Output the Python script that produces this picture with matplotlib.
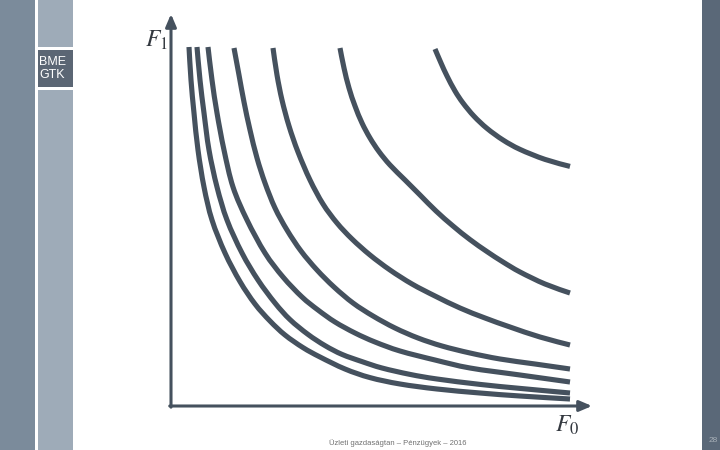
import matplotlib

matplotlib.use("Agg")
import matplotlib.pyplot as plt
import numpy as np
from matplotlib.patches import PathPatch, Rectangle
from matplotlib.path import Path

plt.rcParams["mathtext.fontset"] = "stix"
plt.rcParams["font.family"] = ["Liberation Sans", "DejaVu Sans"]

# Indifference curves (F0 horizontal, F1 vertical, 0..100 units)
c1_f0 = [4.5, 5, 5.75, 6.75, 8.25, 10.25, 13.5, 17.25, 21, 24.75, 28.5, 33, 37.25, 43.5,
         49.75, 57.25, 66.5, 77.25, 87.25, 99.75]
c1_f1 = [89.75, 81.5, 73.25, 64, 54.75, 46.5, 38.25, 31.1, 25.5, 21.25, 17.75, 14.6, 12.25,
         9.25, 7.1, 5.5, 4.25, 3.25, 2.5, 1.75]

c2_f0 = [6.5, 7.25, 8.25, 9.5, 11.5, 14, 17.75, 21.75, 26, 29.75, 34.25, 38.5, 42.75, 47.75,
         52.75, 59.75, 66.5, 77.25, 87.25, 99.75]
c2_f1 = [89.75, 81.5, 73.25, 64, 54.75, 46.5, 38.25, 31.5, 25.75, 21.6, 17.9, 15.1, 12.9,
         11.1, 9.5, 7.9, 6.75, 5.4, 4.4, 3.25]

c3_f0 = [9.25, 10.25, 11.5, 13.25, 15.5, 19, 23.5, 28, 32.75, 36.75, 41, 46, 51, 57.25,
         66, 74.75, 87.25, 99.75]
c3_f1 = [89.75, 81.5, 73.25, 64, 54.75, 46.5, 38.25, 32.25, 27.25, 24, 21, 18.25, 16, 13.75,
         11.5, 9.5, 7.75, 6]

c4_f0 = [15.75, 17, 18.25, 19.75, 21.5, 23.5, 26, 29, 32.5, 36.5, 40.75, 45.5, 50.5, 56,
         61.75, 67.75, 74.75, 82.25, 91, 99.75]
c4_f1 = [89.5, 82.75, 76, 69, 62, 55.75, 49.5, 44, 38.75, 34, 29.75, 25.75, 22.5, 19.5,
         17, 15, 13.25, 11.75, 10.5, 9.25]

c5_f0 = [25.5, 26.5, 27.75, 29.5, 31.75, 34.75, 38, 41.5, 45.25, 49.75, 54.75, 60.25, 66,
         72.25, 78.5, 84.75, 92.25, 99.75]
c5_f1 = [89.5, 82.75, 76.5, 70, 63.5, 56.5, 50.5, 45.75, 41.75, 37.75, 34, 30.5, 27.5,
         24.5, 22, 19.75, 17.25, 15.25]

c6_f0 = [42.25, 43.25, 44.5, 46, 47.75, 49.75, 52, 54.75, 58.5, 62.25, 66.25, 70.5, 74.75,
         79, 83, 87.25, 93.5, 99.75]
c6_f1 = [89.5, 84.5, 79.5, 75, 70.75, 67, 63.6, 60.25, 56.5, 52.75, 48.75, 45, 41.6,
         38.6, 36, 33.5, 30.5, 28.25]

c7_f0 = [66, 67.5, 69, 71, 73, 75.75, 79, 83, 87.25, 93.5, 99.75]
c7_f1 = [89.25, 85.75, 82.5, 78.75, 75.75, 72.45, 69.4, 66.5, 64.15, 61.65, 59.9]

curves = [(c1_f0, c1_f1), (c2_f0, c2_f1), (c3_f0, c3_f1), (c4_f0, c4_f1),
          (c5_f0, c5_f1), (c6_f0, c6_f1), (c7_f0, c7_f1)]

footer = "Üzleti gazdaságtan – Pénzügyek – 2016"
page_no = "28"

W, H = 720, 450
ink = "#45515e"

fig = plt.figure(figsize=(W / 100, H / 100), dpi=100)


def px_rect(x0, y0, x1, y1, color):
    # rectangle in pixel coords (origin top-left)
    fig.patches.append(Rectangle((x0 / W, 1 - y1 / H), (x1 - x0) / W, (y1 - y0) / H,
                                 transform=fig.transFigure, color=color, lw=0, zorder=0))


def smooth_path(xs, ys):
    # Catmull-Rom through the read points, as cubic Bezier segments
    p = np.column_stack([xs, ys]).astype(float)
    ext = np.vstack([p[0], p, p[-1]])
    verts, codes = [p[0]], [Path.MOVETO]
    for i in range(1, len(ext) - 2):
        c1 = ext[i] + (ext[i + 1] - ext[i - 1]) / 6
        c2 = ext[i + 1] - (ext[i + 2] - ext[i]) / 6
        verts += [c1, c2, ext[i + 1]]
        codes += [Path.CURVE4] * 3
    return Path(verts, codes)


# slide frame
px_rect(0, 0, 35, H, "#7b8b9b")
px_rect(38, 0, 73, 47, "#9eabb8")
px_rect(38, 90, 73, H, "#9eabb8")
px_rect(38, 50, 73, 87, "#5b6674")
px_rect(702, 0, W, H, "#5a6878")
fig.text(39 / W, 1 - 68.5 / H, "BME\nGTK", color="white", fontsize=9, va="center",
         ha="left", linespacing=1.05)
fig.text(398 / W, 1 - 443 / H, footer, color="#707070", fontsize=5.5, ha="center",
         va="center")
fig.text(713 / W, 1 - 441 / H, page_no, color="#a8b0b8", fontsize=6, ha="center",
         va="center")

# plot area: origin at (171, 406) px, 4 px per unit
x0, y0 = 171, 406
ax = fig.add_axes([x0 / W, 1 - y0 / H, (592 - x0) / W, (y0 - 14) / H])
ax.set_xlim(0, (592 - x0) / 4)
ax.set_ylim(0, (y0 - 14) / 4)
ax.axis("off")

for f0, f1 in curves:
    ax.add_patch(PathPatch(smooth_path(f0, f1), fill=False, edgecolor=ink, lw=3.7,
                           capstyle="butt", joinstyle="round"))

arrow = dict(arrowstyle="-|>,head_length=0.75,head_width=0.32", color=ink, lw=2.2,
             shrinkA=0, shrinkB=0)
ax.annotate("", xy=(1, 0), xytext=(-0.003, 0), xycoords="axes fraction", arrowprops=arrow)
ax.annotate("", xy=(0, 1), xytext=(0, -0.003), xycoords="axes fraction", arrowprops=arrow)

fig.text(156 / W, 1 - 40 / H, r"$F_1$", fontsize=17, color="#33383f", ha="center",
         va="center")
fig.text(567 / W, 1 - 425 / H, r"$F_0$", fontsize=17, color="#33383f", ha="center",
         va="center")

fig.savefig("out.png", dpi=100)
